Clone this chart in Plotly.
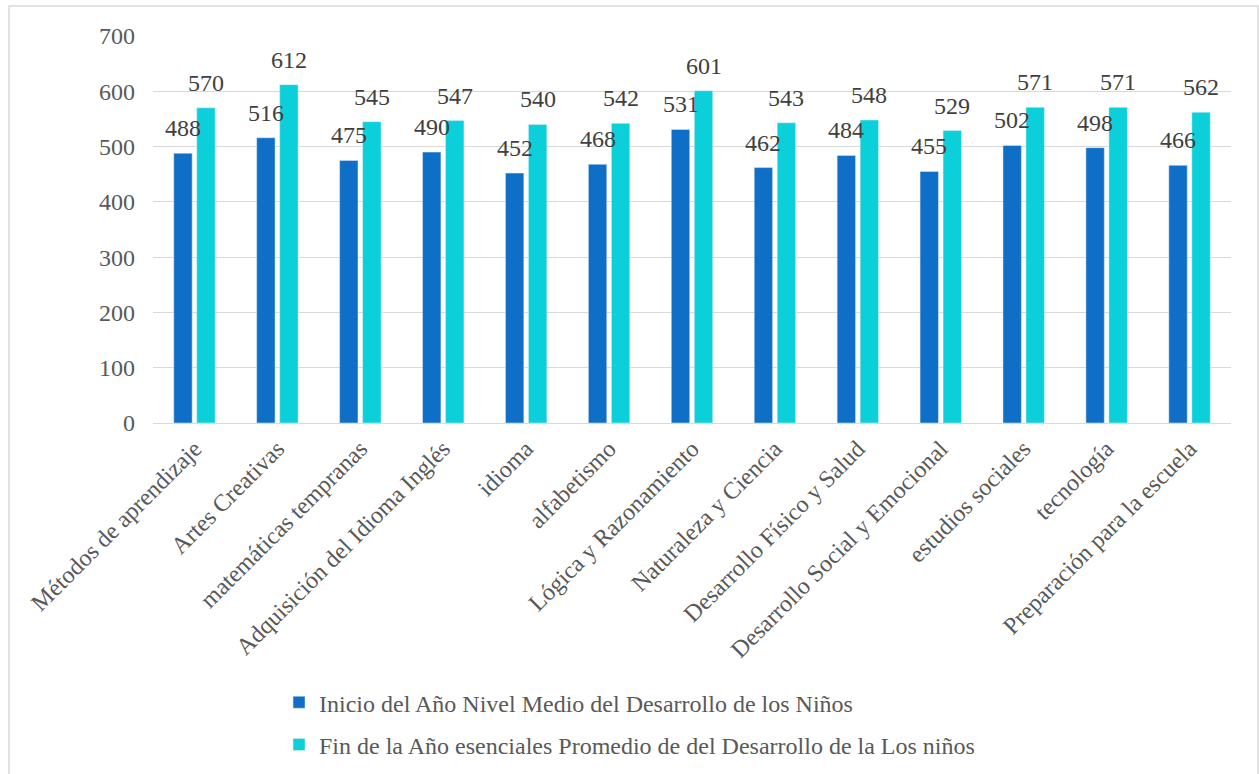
import plotly.graph_objects as go

categories = ["Métodos de aprendizaje", "Artes Creativas", "matemáticas tempranas",
              "Adquisición del Idioma Inglés", "idioma", "alfabetismo",
              "Lógica y Razonamiento", "Naturaleza y Ciencia", "Desarrollo Físico y Salud",
              "Desarrollo Social y Emocional", "estudios sociales", "tecnología",
              "Preparación para la escuela"]
inicio = [488, 516, 475, 490, 452, 468, 531, 462, 484, 455, 502, 498, 466]
fin = [570, 612, 545, 547, 540, 542, 601, 543, 548, 529, 571, 571, 562]
name_inicio = "Inicio del Año Nivel Medio del Desarrollo de los Niños"
name_fin = "Fin de la Año esenciales Promedio de del Desarrollo de la Los niños"

FONT = "Liberation Serif, Times New Roman, serif"
FS = 24

fig = go.Figure()
fig.add_trace(go.Bar(x=categories, y=inicio, name=name_inicio, marker_color="#0F6FC6",
                     legendgroup="a"))
fig.add_trace(go.Bar(x=categories, y=fin, name=name_fin, marker_color="#0BD0D9",
                     legendgroup="b"))

annotations = []
for cat, v in zip(categories, inicio):
    annotations.append(dict(x=cat, y=v, text=str(v), showarrow=False, xref="x", yref="y",
                            xanchor="center", yanchor="bottom", xshift=-11.5, yshift=10,
                            font=dict(size=FS, color="#404040", family=FONT)))
for cat, v in zip(categories, fin):
    annotations.append(dict(x=cat, y=v, text=str(v), showarrow=False, xref="x", yref="y",
                            xanchor="center", yanchor="bottom", xshift=11.5, yshift=10,
                            font=dict(size=FS, color="#404040", family=FONT)))

fig.update_layout(
    width=1259, height=774,
    margin=dict(l=153, r=28, t=36, b=351, autoexpand=False),
    paper_bgcolor="white", plot_bgcolor="white",
    font=dict(family=FONT, color="#595959"),
    barmode="group", bargap=0.445, bargroupgap=0.2,
    showlegend=True,
    annotations=annotations,
    legend=dict(x=0.1169, y=-0.6645, xanchor="left", yanchor="top",
                orientation="v", traceorder="grouped", tracegroupgap=8,
                font=dict(size=FS, color="#595959", family=FONT)),
    shapes=[dict(type="rect", xref="paper", yref="paper",
                 x0=-0.1336, x1=1.025, y0=-2, y1=1.0775,
                 line=dict(color="#D9D9D9", width=1.5), fillcolor="rgba(0,0,0,0)",
                 layer="below")],
)
fig.update_yaxes(range=[0, 700], dtick=100, showgrid=True, gridcolor="#D9D9D9", gridwidth=1.3,
                 zeroline=True, zerolinecolor="#D9D9D9", zerolinewidth=1.3,
                 tickfont=dict(size=FS, color="#595959", family=FONT), ticks="", ticklen=0,
                 ticklabelstandoff=17, showline=False, automargin=False)
fig.update_xaxes(tickangle=-45, tickfont=dict(size=FS, color="#595959", family=FONT),
                 ticklabelstandoff=6,
                 showline=False, showgrid=False, ticks="", automargin=False)

fig.write_html("out.html", config={"displayModeBar": False},
               post_script="document.body.style.margin='0';document.body.style.overflow='hidden';")
